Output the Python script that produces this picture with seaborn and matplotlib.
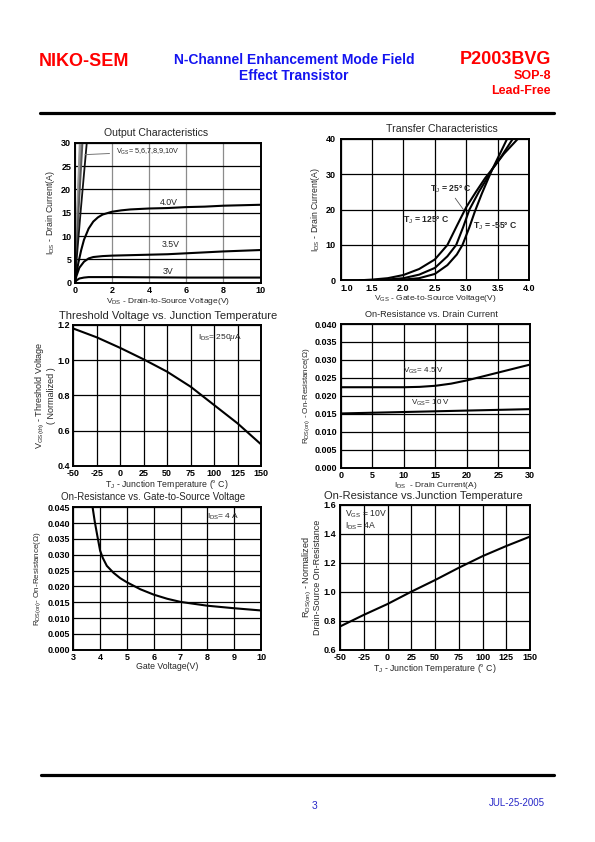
import matplotlib
matplotlib.use("Agg")
import matplotlib.pyplot as plt
from matplotlib.lines import Line2D
import numpy as np
import pandas as pd
import seaborn as sns

# ---------------- data ----------------
# Output characteristics
out_steep_labels = ["10V", "9V", "8V", "7V", "6V", "5V"]
out_steep_x_end = [0.27, 0.30, 0.33, 0.37, 0.42, 0.65]
out_steep_colors = ["#9a9a9a", "#9a9a9a", "#9a9a9a", "#8a8a8a", "#555555", "#111111"]
out_vds_40 = [0, 0.1, 0.2, 0.35, 0.5, 0.75, 1.0, 1.25, 1.5, 2.0, 2.5, 3, 4, 5, 6, 7, 8, 9, 10]
out_id_40 = [0, 2.2, 4.3, 7.0, 9.2, 11.6, 13.1, 14.0, 14.6, 15.2, 15.5, 15.7, 15.9, 16.0, 16.2, 16.3, 16.5, 16.6, 16.7]
out_vds_35 = [0, 0.1, 0.25, 0.5, 0.75, 1, 1.5, 2, 3, 4, 5, 6, 7, 8, 9, 10]
out_id_35 = [0, 1.5, 3.2, 4.5, 5.2, 5.5, 5.7, 5.8, 5.9, 6.0, 6.1, 6.3, 6.5, 6.7, 6.85, 7.0]
out_vds_30 = [0, 0.1, 0.25, 0.5, 0.75, 1, 2, 4, 6, 8, 10]
out_id_30 = [0, 0.5, 0.9, 1.1, 1.2, 1.2, 1.2, 1.15, 1.1, 1.1, 1.1]

# Transfer characteristics
tr_vgs_125 = [1.3, 1.5, 1.75, 2.0, 2.25, 2.5, 2.7, 2.85, 3.0, 3.15, 3.3, 3.42, 3.6, 3.82]
tr_id_125 = [0, 0.2, 0.6, 1.5, 3.2, 5.9, 10.0, 15.4, 20.7, 24.9, 28.9, 31.6, 35.8, 40]
tr_vgs_25 = [1.4, 1.6, 1.8, 2.0, 2.25, 2.5, 2.7, 2.84, 2.95, 3.05, 3.2, 3.37, 3.42, 3.55, 3.74]
tr_id_25 = [0, 0.1, 0.3, 0.6, 1.6, 3.5, 6.8, 10.0, 15.0, 20.0, 25.0, 30.0, 31.6, 34.8, 40]
tr_vgs_m55 = [1.5, 1.75, 2.0, 2.25, 2.5, 2.7, 2.85, 2.94, 3.05, 3.14, 3.25, 3.38, 3.42, 3.55, 3.65]
tr_id_m55 = [0, 0.05, 0.2, 0.6, 1.8, 4.3, 7.3, 10.0, 15.0, 19.6, 24.6, 30.0, 31.6, 36.3, 40]

# Threshold voltage vs junction temperature
th_tj = [-50, -25, 0, 25, 50, 75, 100, 125, 150]
th_vth = [1.18, 1.13, 1.07, 1.005, 0.935, 0.85, 0.746, 0.642, 0.523]

# On-resistance vs drain current
rid_id_45 = [0, 5, 10, 12.5, 15, 17.5, 20, 22.5, 25, 27.5, 30]
rid_r_45 = [0.0224, 0.0224, 0.0224, 0.0225, 0.0228, 0.0234, 0.0243, 0.0254, 0.0265, 0.0276, 0.0287]
rid_id_10 = [0, 10, 20, 30]
rid_r_10 = [0.0151, 0.0155, 0.0159, 0.0163]

# On-resistance vs gate voltage
rvg_vgs = [3.72, 3.8, 3.9, 4.0, 4.1, 4.25, 4.5, 4.75, 5.0, 5.5, 6, 6.5, 7, 8, 9, 10]
rvg_r = [0.045, 0.0405, 0.0358, 0.0313, 0.0290, 0.0265, 0.0243, 0.0226, 0.0213, 0.0191, 0.0174, 0.0161, 0.0151, 0.0139, 0.0131, 0.0124]

# Normalised on-resistance vs junction temperature
rtj_tj = [-50, -25, 0, 25, 50, 75, 100, 125, 150]
rtj_r = [0.76, 0.84, 0.915, 1.0, 1.08, 1.165, 1.245, 1.315, 1.38]

# ---------------- style ----------------
sns.set_theme(style="white")
plt.rcParams["font.family"] = ["Liberation Sans", "DejaVu Sans"]
plt.rcParams["mathtext.fontset"] = "custom"
plt.rcParams["mathtext.rm"] = "Liberation Sans"
plt.rcParams["mathtext.it"] = "Liberation Sans:italic"
plt.rcParams["mathtext.bf"] = "Liberation Sans:bold"

W, H = 595, 842
fig = plt.figure(figsize=(W / 100, H / 100), dpi=100)
fig.patch.set_facecolor("white")

RED = "#ff0000"
BLUE = "#1414f0"


def make_ax(x0, y0, x1, y1):
    return fig.add_axes([x0 / W, 1 - y1 / H, (x1 - x0) / W, (y1 - y0) / H])


def style(ax, xlim, ylim, xticks, yticks, xfmt, yfmt, vgrid="black", hgrid="black"):
    ax.set_xlim(xlim)
    ax.set_ylim(ylim)
    ax.set_xticks(xticks)
    ax.set_yticks(yticks)
    ax.set_xticklabels([xfmt.format(v) for v in xticks], fontsize=6.5, fontweight="bold")
    ax.set_yticklabels([yfmt.format(v) for v in yticks], fontsize=6.5, fontweight="bold")
    ax.tick_params(length=0, pad=2.5, colors="black")
    ax.set_axisbelow(True)
    ax.xaxis.grid(True, color=vgrid, lw=0.9)
    ax.yaxis.grid(True, color=hgrid, lw=0.9)
    for s in ax.spines.values():
        s.set_color("black")
        s.set_linewidth(1.4)
    ax.set_facecolor("white")


def curve(ax, x, y, color="black", lw=1.5):
    df = pd.DataFrame({"x": x, "y": y})
    sns.lineplot(data=df, x="x", y="y", ax=ax, color=color, lw=lw, sort=False,
                 estimator=None, legend=False)
    ax.set_xlabel("")
    ax.set_ylabel("")


def ftext(x, y, s, **kw):
    fig.text(x / W, 1 - y / H, s, **kw)


# ---------------- header / footer ----------------
ftext(39, 62, "NIKO-SEM", color=RED, fontsize=13, fontweight="bold", ha="left", va="center")
ftext(294, 60, "N-Channel Enhancement Mode Field", color=BLUE, fontsize=10, fontweight="bold",
      ha="center", va="center")
ftext(294, 76, "Effect Transistor", color=BLUE, fontsize=10, fontweight="bold", ha="center", va="center")
ftext(551, 59, "P2003BVG", color=RED, fontsize=13, fontweight="bold", ha="right", va="center")
ftext(551, 76, "SOP-8", color=RED, fontsize=9, fontweight="bold", ha="right", va="center")
ftext(551, 91, "Lead-Free", color=RED, fontsize=9, fontweight="bold", ha="right", va="center")
fig.add_artist(Line2D([40 / W, 554 / W], [1 - 113 / H] * 2, color="black", lw=2.3))
fig.add_artist(Line2D([41 / W, 554 / W], [1 - 775 / H] * 2, color="black", lw=2.3))
ftext(315, 806, "3", color="#2828c8", fontsize=7.5, ha="center", va="center")
ftext(545, 803, "JUL-25-2005", color="#2828c8", fontsize=7, ha="right", va="center")

# ---------------- 1. Output characteristics ----------------
ax1 = make_ax(74.7, 142.7, 260.5, 282.7)
style(ax1, (0, 10), (0, 30), [0, 2, 4, 6, 8, 10], [0, 5, 10, 15, 20, 25, 30], "{:g}", "{:g}",
      vgrid="#8c8c8c")
for lab, xe, c in zip(out_steep_labels, out_steep_x_end, out_steep_colors):
    curve(ax1, [0, xe * 0.5, xe], [0, 15.5, 30], color=c, lw=1.3)
curve(ax1, out_vds_40, out_id_40)
curve(ax1, out_vds_35, out_id_35)
curve(ax1, out_vds_30, out_id_30)
ax1.annotate(r"V$_{\mathrm{GS}}$= 5,6,7,8,9,10V", xy=(0.4, 27.4), xytext=(2.2, 28.1),
             fontsize=5.2, va="center", ha="left",
             arrowprops=dict(arrowstyle="-", color="#777777", lw=0.7))
ax1.text(4.6, 16.3, "4.0V", fontsize=6.3, va="bottom", ha="left")
ax1.text(4.7, 7.3, "3.5V", fontsize=6.3, va="bottom", ha="left")
ax1.text(4.75, 1.4, "3V", fontsize=6.3, va="bottom", ha="left")
ax1.set_xlabel(r"V$_{\mathrm{DS}}$ - Drain-to-Source Voltage(V)", fontsize=6, labelpad=0.5)
ax1.set_ylabel(r"I$_{\mathrm{DS}}$ - Drain Current(A)", fontsize=6.3, labelpad=3)
ftext(156, 132.5, "Output Characteristics", fontsize=7.6, ha="center", va="center")

# ---------------- 2. Transfer characteristics ----------------
ax2 = make_ax(340.7, 139, 529, 280.3)
style(ax2, (1, 4), (0, 40), [1.0, 1.5, 2.0, 2.5, 3.0, 3.5, 4.0], [0, 10, 20, 30, 40], "{:.1f}", "{:g}")
ax2.tick_params(axis="y", pad=3.5)
ax2.get_xticklabels()[0].set_horizontalalignment("left")
curve(ax2, tr_vgs_125, tr_id_125)
curve(ax2, tr_vgs_25, tr_id_25)
curve(ax2, tr_vgs_m55, tr_id_m55)
ax2.annotate(r"T$_{\mathrm{J}}$ = 25° C", xy=(2.98, 19.4), xytext=(2.42, 25.8),
             fontsize=6.2, fontweight="bold", va="center", ha="left",
             arrowprops=dict(arrowstyle="-", color="#555555", lw=0.6, shrinkA=0,
                             relpos=(0.55, 0.0)))
ax2.text(1.99, 16.9, r"T$_{\mathrm{J}}$ = 125° C", fontsize=6.2, fontweight="bold", va="center", ha="left")
ax2.text(3.11, 15.2, r"T$_{\mathrm{J}}$ = -55° C", fontsize=6.2, fontweight="bold", va="center", ha="left")
ax2.set_xlabel(r"V$_{\mathrm{GS}}$ - Gate-to-Source Voltage(V)", fontsize=6, labelpad=0.5)
ax2.set_ylabel(r"I$_{\mathrm{DS}}$ - Drain Current(A)", fontsize=6.3, labelpad=3)
ftext(441.7, 129.5, "Transfer Characteristics", fontsize=7.6, ha="center", va="center")

# ---------------- 3. Threshold voltage ----------------
ax3 = make_ax(73.3, 325, 261, 466)
style(ax3, (-50, 150), (0.4, 1.2), [-50, -25, 0, 25, 50, 75, 100, 125, 150],
      [0.4, 0.6, 0.8, 1.0, 1.2], "{:g}", "{:.1f}")
curve(ax3, th_tj, th_vth)
ax3.text(83, 1.13, r"I$_{\mathrm{DS}}$= 250$\mu$A", fontsize=6, va="center", ha="left")
ax3.set_xlabel(r"T$_{\mathrm{J}}$ - Junction Temperature (° C)", fontsize=6.3, labelpad=0)
ax3.set_ylabel("V$_{\\mathrm{GS(th)}}$ - Threshold Voltage\n( Normalized )", fontsize=6.5,
               labelpad=1, linespacing=0.95)
ftext(168, 316, "Threshold Voltage vs. Junction Temperature", fontsize=8, ha="center", va="center")

# ---------------- 4. On-resistance vs drain current ----------------
ax4 = make_ax(340.7, 324, 530, 467.7)
style(ax4, (0, 30), (0, 0.04), [0, 5, 10, 15, 20, 25, 30],
      [0, 0.005, 0.01, 0.015, 0.02, 0.025, 0.03, 0.035, 0.04], "{:g}", "{:.3f}")
curve(ax4, rid_id_45, rid_r_45)
curve(ax4, rid_id_10, rid_r_10)
ax4.text(9.8, 0.0270, r"V$_{\mathrm{GS}}$= 4.5 V", fontsize=5.8, va="center", ha="left")
ax4.text(11.1, 0.0179, r"V$_{\mathrm{GS}}$= 10 V", fontsize=5.8, va="center", ha="left")
ax4.set_xlabel(r"I$_{\mathrm{DS}}$  - Drain Current(A)", fontsize=6, labelpad=0)
ax4.set_ylabel(r"R$_{\mathrm{DS(on)}}$ - On-Resistance($\Omega$)", fontsize=5.8, labelpad=2)
ftext(431.7, 314.3, "On-Resistance vs. Drain Current", fontsize=6.6, ha="center", va="center")

# ---------------- 5. On-resistance vs gate voltage ----------------
ax5 = make_ax(73.3, 507.3, 261, 649.7)
style(ax5, (3, 10), (0, 0.045), [3, 4, 5, 6, 7, 8, 9, 10],
      [0, 0.005, 0.01, 0.015, 0.02, 0.025, 0.03, 0.035, 0.04, 0.045], "{:g}", "{:.3f}")
curve(ax5, rvg_vgs, rvg_r)
ax5.text(7.98, 0.0419, r"I$_{\mathrm{DS}}$= 4 A", fontsize=6, va="center", ha="left")
ax5.set_xlabel("Gate Voltage(V)", fontsize=6.3, labelpad=0)
ax5.set_ylabel(r"R$_{\mathrm{DS(on)}}$- On-Resistance($\Omega$)", fontsize=5.8, labelpad=3)
ftext(153.5, 497.5, "On-Resistance vs. Gate-to-Source Voltage", fontsize=7, ha="center", va="center")

# ---------------- 6. On-resistance vs junction temperature ----------------
ax6 = make_ax(340, 504.7, 530, 649.7)
style(ax6, (-50, 150), (0.6, 1.6), [-50, -25, 0, 25, 50, 75, 100, 125, 150],
      [0.6, 0.8, 1.0, 1.2, 1.4, 1.6], "{:g}", "{:.1f}")
curve(ax6, rtj_tj, rtj_r)
ax6.text(-45, 1.535, r"V$_{\mathrm{GS}}$ = 10V", fontsize=6.2, va="center", ha="left")
ax6.text(-45, 1.455, r"I$_{\mathrm{DS}}$= 4A", fontsize=6.2, va="center", ha="left")
ax6.set_xlabel(r"T$_{\mathrm{J}}$ - Junction Temperature (° C)", fontsize=6.3, labelpad=0)
ax6.set_ylabel("R$_{\\mathrm{DS(on)}}$ - Normalized\nDrain-Source On-Resistance", fontsize=6.5,
               labelpad=1, linespacing=0.95)
ftext(423, 496, "On-Resistance vs.Junction Temperature", fontsize=8, ha="center", va="center")

fig.savefig("out.png", dpi=100, facecolor="white")
